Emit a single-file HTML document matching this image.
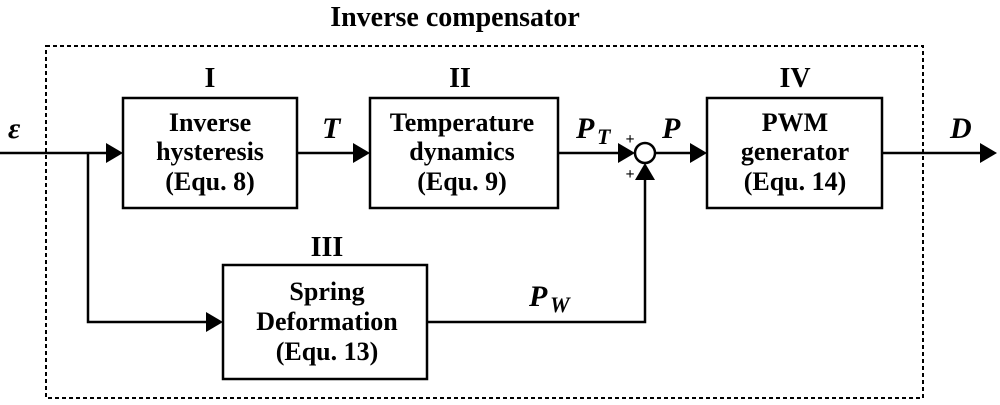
<!DOCTYPE html>
<html><head><meta charset="utf-8"><style>
body{margin:0;background:#fff}
svg text{font-family:"Liberation Serif",serif;font-weight:bold;fill:#000}
</style></head><body>
<svg width="1000" height="400" viewBox="0 0 1000 400" xmlns="http://www.w3.org/2000/svg">
<defs><marker id="a" markerWidth="10" markerHeight="10" refX="10" refY="5" orient="auto" markerUnits="userSpaceOnUse"><path d="M0,0 L10,5 L0,10" fill="none"/></marker></defs>
<text x="455" y="26" font-size="28" text-anchor="middle">Inverse compensator</text>
<rect x="46" y="46" width="877" height="352" fill="none" stroke="#000" stroke-width="2" stroke-dasharray="4,3"/>
<g fill="none" stroke="#000" stroke-width="2.5">
<rect x="123" y="98" width="174" height="110"/>
<rect x="370" y="98" width="188" height="110"/>
<rect x="707" y="98" width="175" height="110"/>
<rect x="223" y="265" width="204" height="114"/>
<circle cx="645" cy="153" r="10"/>
<path d="M0,153 H106 M297,153 H353 M558,153 H618 M655,153 H690 M882,153 H980 M88,153 V322 H206 M427,322 H645 V180"/>
</g>
<g fill="#000">
<path d="M106,143 L123,153 L106,163Z"/>
<path d="M353,143 L370,153 L353,163Z"/>
<path d="M618,143 L635,153 L618,163Z"/>
<path d="M690,143 L707,153 L690,163Z"/>
<path d="M980,143 L997,153 L980,163Z"/>
<path d="M206,312 L223,322 L206,332Z"/>
<path d="M635,180 L645,163 L655,180Z"/>
</g>
<g font-size="28" text-anchor="middle">
<text x="210" y="87">I</text>
<text x="460" y="87">II</text>
<text x="327" y="256">III</text>
<text x="795" y="87">IV</text>
</g>
<g font-size="26" text-anchor="middle">
<text x="210" y="131">Inverse</text><text x="210" y="160">hysteresis</text><text x="210" y="190">(Equ. 8)</text>
<text x="462" y="131">Temperature</text><text x="462" y="160">dynamics</text><text x="462" y="190">(Equ. 9)</text>
<text x="795" y="131">PWM</text><text x="795" y="160">generator</text><text x="795" y="190">(Equ. 14)</text>
<text x="327" y="300">Spring</text><text x="327" y="330">Deformation</text><text x="327" y="360">(Equ. 13)</text>
</g>
<g font-size="30" font-style="italic">
<text x="8" y="138">ε</text>
<text x="322" y="138">T</text>
<text x="576" y="138">P</text><text x="597" y="144" font-size="22">T</text>
<text x="662" y="138">P</text>
<text x="950" y="138">D</text>
<text x="529" y="306">P</text><text x="550" y="312" font-size="22">W</text>
</g>
<text x="630" y="144" font-size="16" text-anchor="middle" font-weight="normal">+</text>
<text x="630" y="179" font-size="16" text-anchor="middle" font-weight="normal">+</text>
</svg>
</body></html>
